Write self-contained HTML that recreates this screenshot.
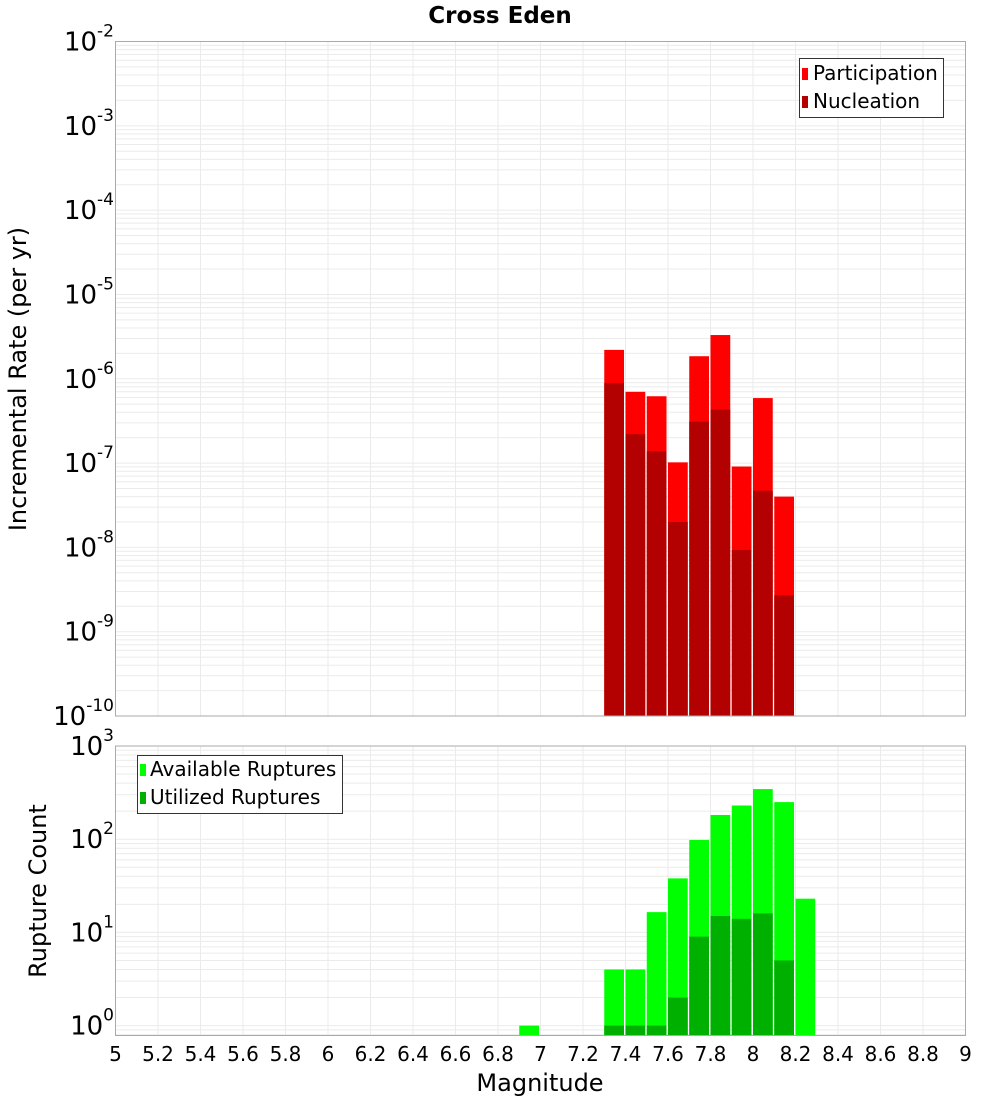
<!DOCTYPE html>
<html><head><meta charset="utf-8"><style>
body{margin:0;background:#fff;}
svg{display:block;font-family:"DejaVu Sans","Liberation Sans",sans-serif;}
</style></head><body>
<svg id="chart" width="1000" height="1100"></svg>
<script>
const topBins=[7.3,7.4,7.5,7.6,7.7,7.8,7.9,8.0,8.1];
const participation=[2.2e-6,7.0e-7,6.2e-7,1.02e-7,1.85e-6,3.3e-6,9.1e-8,5.9e-7,4.0e-8];
const nucleation=[8.9e-7,2.2e-7,1.38e-7,2.0e-8,3.1e-7,4.3e-7,9.3e-9,4.7e-8,2.7e-9];
const botBins=[6.9,7.3,7.4,7.5,7.6,7.7,7.8,7.9,8.0,8.1,8.2];
const available=[1,4,4,16.5,38,98,182,230,345,250,23];
const utilized=[0,1,1,1,2,9,15,14,16,5,0];
const xTicks=[5,5.2,5.4,5.6,5.8,6,6.2,6.4,6.6,6.8,7,7.2,7.4,7.6,7.8,8,8.2,8.4,8.6,8.8,9];
const topExp=[-2,-3,-4,-5,-6,-7,-8,-9,-10];
const botExp=[3,2,1,0];

const NS="http://www.w3.org/2000/svg";
const svg=document.getElementById('chart');
function mk(tag,attrs,parent){const e=document.createElementNS(NS,tag);for(const k in attrs)e.setAttribute(k,attrs[k]);(parent||svg).appendChild(e);return e;}
const X0=115.5,X1=965.5;
const xs=v=>X0+(v-5)/4*(X1-X0);
const TY0=41.5,TY1=716;
const ty=v=>TY0+(-2-Math.log10(v))*(TY1-TY0)/8;
const BY0=746,BYPD=93.2;
const by=v=>BY0+(3-Math.log10(v))*BYPD;
const BY1=1035.5;

function grid(y0,y1,yfn,eMin,eMax){
  const g=mk('g',{});
  
  
  for(const t of xTicks){mk('line',{x1:xs(t),x2:xs(t),y1:y0,y2:y1,stroke:'#ebebeb','stroke-width':1},g);}
  for(let e=eMin;e<=eMax;e++){for(let m=1;m<10;m++){const y=yfn(m*Math.pow(10,e));if(y>=y0-0.5&&y<=y1+0.5)mk('line',{x1:X0,x2:X1,y1:y,y2:y,stroke:'#ebebeb','stroke-width':1},g);}}
}
grid(TY0,TY1,ty,-10,-3);
grid(BY0,BY1,by,-1,2);

const bw=(xs(5.1)-xs(5))-1.5;
const tb=mk('g',{});


topBins.forEach((b,i)=>{
  const x=xs(b);
  const p=mk('rect',{x:x,y:ty(participation[i]),width:bw,height:TY1-ty(participation[i]),fill:'#ff0000'},tb);
  
  
  const n=mk('rect',{x:x,y:ty(nucleation[i]),width:bw,height:TY1-ty(nucleation[i]),fill:'#b30000'},tb);
  
  
});
const bb=mk('g',{});


botBins.forEach((b,i)=>{
  const x=xs(b);
  if(available[i]>0){const a=mk('rect',{x:x,y:by(available[i]),width:bw,height:BY1-by(available[i]),fill:'#00ff00'},bb);
  
  }
  if(utilized[i]>0){const u=mk('rect',{x:x,y:by(utilized[i]),width:bw,height:BY1-by(utilized[i]),fill:'#00b000'},bb);
  
  }
});

const f1=mk('rect',{x:X0,y:TY0,width:X1-X0,height:TY1-TY0,fill:'none',stroke:'#aaa','stroke-width':1});


const f2=mk('rect',{x:X0,y:BY0,width:X1-X0,height:BY1-BY0,fill:'none',stroke:'#aaa','stroke-width':1});



function ylab(exp,y,name){
  const t=mk('text',{x:114,y:y+9,'text-anchor':'end','font-size':26,fill:'#000'});
  
  
  const s1=document.createElementNS(NS,'tspan');s1.textContent='10';t.appendChild(s1);
  const s2=document.createElementNS(NS,'tspan');s2.setAttribute('dy','-14');s2.setAttribute('font-size','17');s2.textContent=String(exp);t.appendChild(s2);
}
topExp.forEach(e=>ylab(e,ty(Math.pow(10,e)),'top-y-tick-label'));
botExp.forEach(e=>ylab(e,by(Math.pow(10,e)),'bottom-y-tick-label'));

xTicks.forEach(t=>{
  const tx=mk('text',{x:xs(t),y:1061,'text-anchor':'middle','font-size':20,fill:'#000'});
  
  
  tx.textContent=String(t);
});
</script>
<div style="position:absolute;left:0;top:0;width:1000px;height:1100px;pointer-events:none">
<svg width="1000" height="1100" style="font-family:'DejaVu Sans','Liberation Sans',sans-serif">
<text x="500" y="23" text-anchor="middle" font-size="23" font-weight="bold">Cross Eden</text>
<text transform="translate(26,379) rotate(-90)" text-anchor="middle" font-size="24">Incremental Rate (per yr)</text>
<text transform="translate(46,891) rotate(-90)" text-anchor="middle" font-size="24">Rupture Count</text>
<text x="540" y="1091" text-anchor="middle" font-size="24">Magnitude</text>
<g>
<rect x="799.5" y="58.5" width="144" height="59" fill="#fff" stroke="#333"/>
<rect x="802" y="68" width="6" height="12" fill="#ff0000"/>
<text x="813" y="80" font-size="20">Participation</text>
<rect x="802" y="96" width="6" height="12" fill="#b30000"/>
<text x="813" y="108" font-size="20">Nucleation</text>
</g>
<g>
<rect x="137.5" y="755.5" width="205" height="58" fill="#fff" stroke="#333"/>
<rect x="140" y="764" width="6" height="12" fill="#00ff00"/>
<text x="150" y="776" font-size="20">Available Ruptures</text>
<rect x="140" y="792" width="6" height="12" fill="#00b000"/>
<text x="150" y="804" font-size="20">Utilized Ruptures</text>
</g>
</svg></div>
</body></html>
